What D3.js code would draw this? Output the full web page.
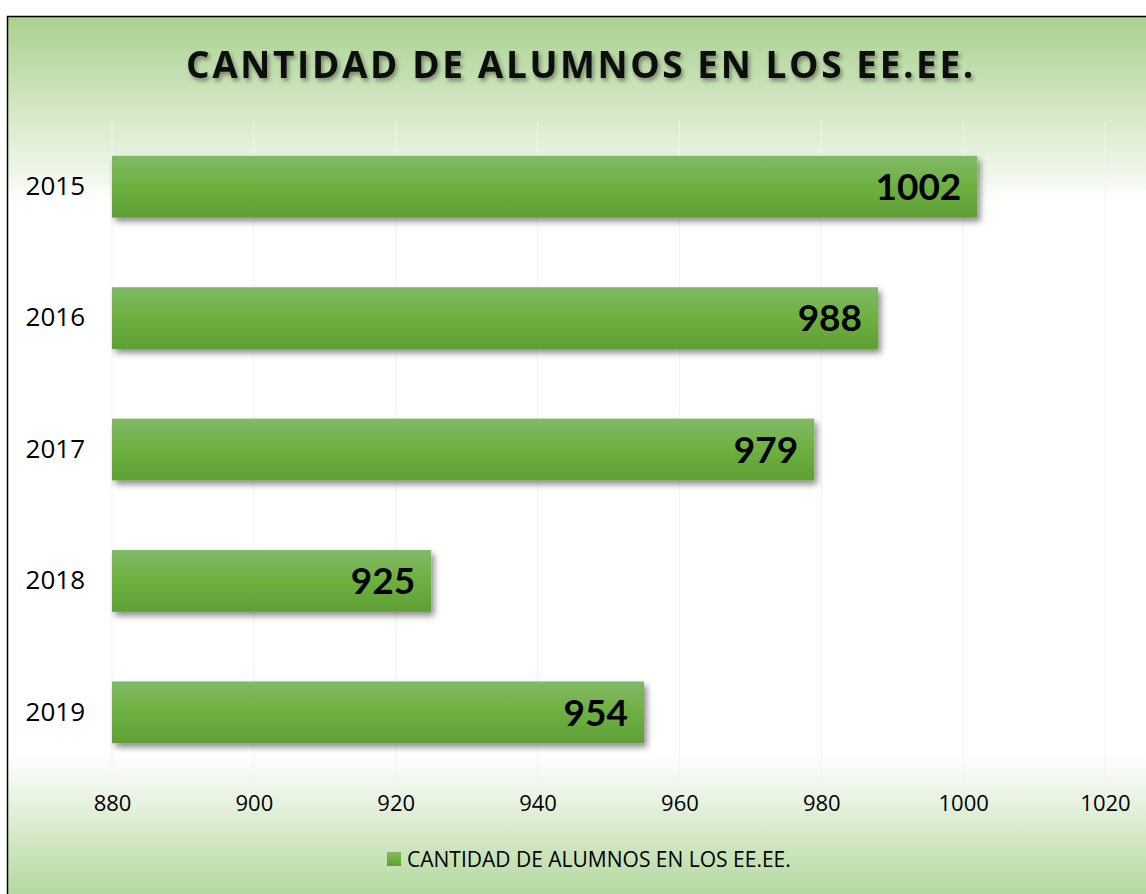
<!DOCTYPE html>
<html>
<head>
<meta charset="utf-8">
<script src="https://cdn.jsdelivr.net/npm/d3@7"></script>
<style>
  html, body { margin: 0; padding: 0; background: #fff; overflow: hidden; }
  svg { display: block; }
</style>
</head>
<body>
<div id="chart"></div>
<script>
// data
const years = ["2015", "2016", "2017", "2018", "2019"];
const alumnos = [1002, 988, 979, 925, 955];           // bar lengths as drawn
const valueLabels = ["1002", "988", "979", "925", "954"]; // labels as printed
const xTicks = [880, 900, 920, 940, 960, 980, 1000, 1020];
const titleText = "CANTIDAD DE ALUMNOS EN LOS EE.EE.";
const seriesName = "CANTIDAD DE ALUMNOS EN LOS EE.EE.";

const W = 1146, H = 894;
const plot = { left: 112, right: 1105, top: 121, bottom: 778 };

const svg = d3.select("#chart").append("svg")
  .attr("width", W)
  .attr("height", H);

const defs = svg.append("defs");

// chart background: green at top and bottom, white in the middle
const bg = defs.append("linearGradient")
  .attr("id", "bg")
  .attr("gradientUnits", "userSpaceOnUse")
  .attr("x1", 0).attr("y1", 16).attr("x2", 0).attr("y2", H);
[
  [0, "#a9d18e"], [0.19, "#f4f9f0"], [0.21, "#ffffff"],
  [0.84, "#ffffff"], [0.88, "#eef6e9"], [1, "#b4d89f"]
].forEach(([o, c]) => bg.append("stop").attr("offset", o).attr("stop-color", c));

const barGrad = defs.append("linearGradient")
  .attr("id", "bar").attr("x1", 0).attr("y1", 0).attr("x2", 0).attr("y2", 1);
[[0, "#82b967"], [0.5, "#6db040"], [1, "#5f9f35"]]
  .forEach(([o, c]) => barGrad.append("stop").attr("offset", o).attr("stop-color", c));

const shadow = defs.append("filter").attr("id", "shadow")
  .attr("x", "-5%").attr("y", "-20%").attr("width", "115%").attr("height", "160%");
shadow.append("feDropShadow")
  .attr("dx", 3).attr("dy", 4).attr("stdDeviation", 3)
  .attr("flood-color", "#000").attr("flood-opacity", 0.45);

const tShadow = defs.append("filter").attr("id", "tshadow")
  .attr("x", "-5%").attr("y", "-30%").attr("width", "110%").attr("height", "170%");
tShadow.append("feDropShadow")
  .attr("dx", 2).attr("dy", 3).attr("stdDeviation", 2)
  .attr("flood-color", "#000").attr("flood-opacity", 0.4);

// frame
svg.append("rect")
  .attr("x", 7.5).attr("y", 16.5)
  .attr("width", W + 10).attr("height", H + 10)
  .attr("fill", "url(#bg)")
  .attr("stroke", "#000").attr("stroke-width", 1.5);

// scales
const x = d3.scaleLinear().domain([880, 1020]).range([plot.left, plot.right]);
const y = d3.scaleBand().domain(years).range([plot.top, plot.bottom]).paddingInner(0.53).paddingOuter(0.265);

// faint grid
svg.append("g")
  .selectAll("line")
  .data(xTicks)
  .join("line")
  .attr("x1", d => x(d)).attr("x2", d => x(d))
  .attr("y1", plot.top).attr("y2", plot.bottom)
  .attr("stroke", "#f2f2f2").attr("stroke-width", 1);

// title
svg.append("text")
  .attr("x", 581).attr("y", 78)
  .attr("text-anchor", "middle")
  .attr("font-family", "'Open Sans', sans-serif")
  .attr("font-weight", "bold")
  .attr("font-size", 37)
  .attr("letter-spacing", 2.6)
  .attr("fill", "#0d0d0d")
  .attr("filter", "url(#tshadow)")
  .text(titleText);

// bars
const rows = years.map((yr, i) => ({ year: yr, value: alumnos[i], label: valueLabels[i] }));

svg.append("g")
  .selectAll("rect")
  .data(rows)
  .join("rect")
  .attr("x", x(880))
  .attr("y", d => y(d.year))
  .attr("width", d => x(d.value) - x(880))
  .attr("height", y.bandwidth())
  .attr("fill", "url(#bar)")
  .attr("filter", "url(#shadow)");

// value labels
svg.append("g")
  .selectAll("text")
  .data(rows)
  .join("text")
  .attr("x", d => x(d.value) - 16)
  .attr("y", d => y(d.year) + y.bandwidth() / 2)
  .attr("dy", "0.36em")
  .attr("text-anchor", "end")
  .attr("font-family", "Lato, 'Open Sans', sans-serif")
  .attr("font-weight", "bold")
  .attr("font-size", 37)
  .attr("fill", "#000")
  .text(d => d.label);

// y axis labels
const yAxis = svg.append("g")
  .attr("transform", `translate(${plot.left},0)`)
  .call(d3.axisLeft(y).tickSize(0).tickPadding(27));
yAxis.select(".domain").remove();
yAxis.selectAll("text")
  .attr("font-family", "'Open Sans', sans-serif")
  .attr("font-size", 26)
  .attr("fill", "#000");

// x axis labels
const xAxis = svg.append("g")
  .attr("transform", `translate(0,${plot.bottom})`)
  .call(d3.axisBottom(x).tickValues(xTicks).tickSize(0).tickPadding(17).tickFormat(d3.format("d")));
xAxis.select(".domain").remove();
xAxis.selectAll("text")
  .attr("font-family", "'Open Sans', sans-serif")
  .attr("font-size", 22)
  .attr("fill", "#000");

// legend
const legend = svg.append("g").attr("transform", "translate(387,852)");
legend.append("rect")
  .attr("width", 14).attr("height", 14)
  .attr("fill", "url(#bar)");
legend.append("text")
  .attr("x", 20).attr("y", 7)
  .attr("dy", "0.36em")
  .attr("font-family", "'Open Sans', sans-serif")
  .attr("font-size", 21)
  .attr("fill", "#000")
  .text(seriesName);
</script>
</body>
</html>
